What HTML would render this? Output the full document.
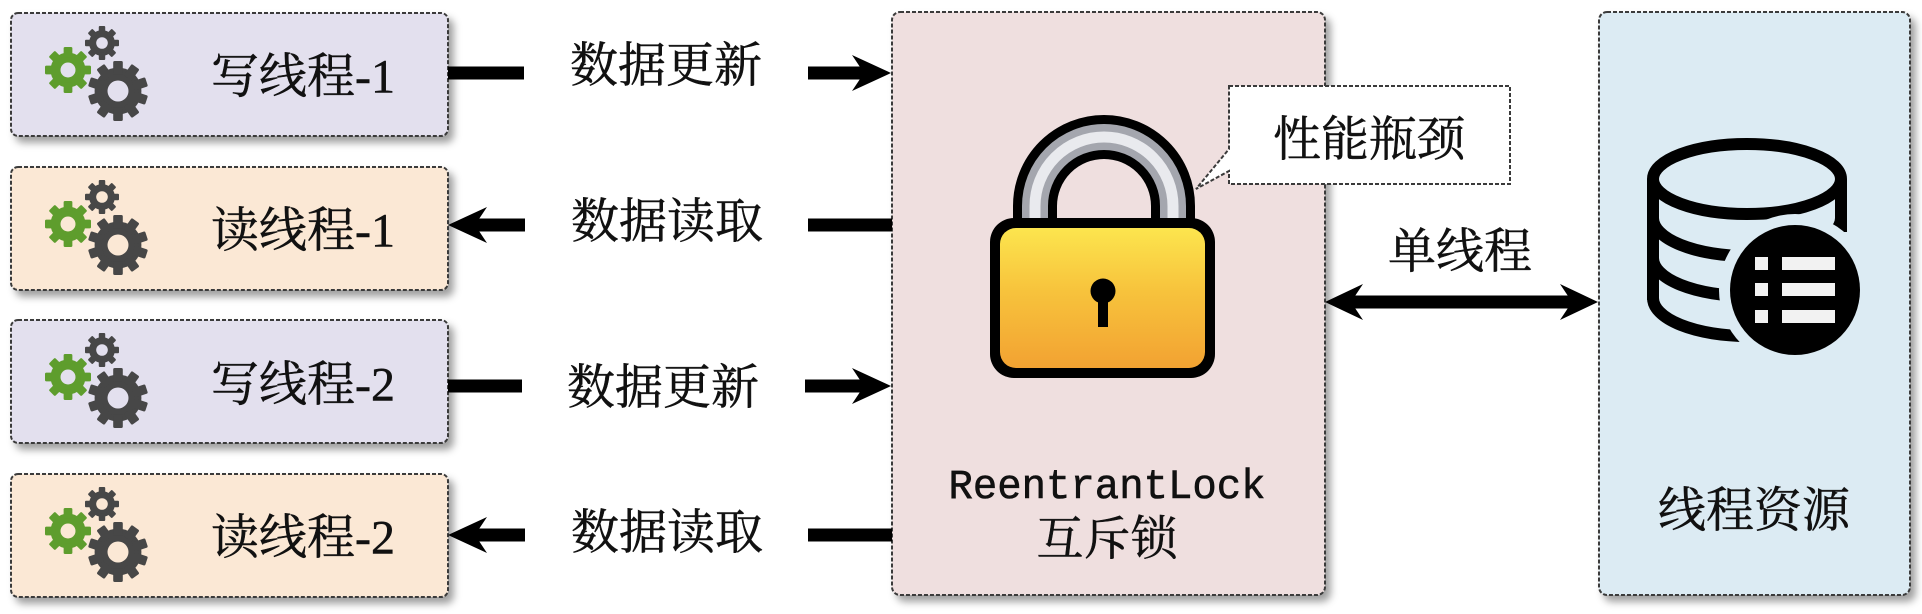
<!DOCTYPE html>
<html>
<head>
<meta charset="utf-8">
<style>
  html,body{margin:0;padding:0;background:#fff;}
  body{width:1922px;height:614px;overflow:hidden;}
  svg{display:block;}
  .t{font-family:"Liberation Serif","Noto Serif CJK SC",serif;fill:#111;stroke:#111;stroke-width:0.5;}
</style>
</head>
<body>
<svg width="1922" height="614" viewBox="0 0 1922 614" xmlns="http://www.w3.org/2000/svg">
  <defs>
    <filter id="sh" x="-10%" y="-10%" width="130%" height="130%">
      <feDropShadow dx="5" dy="6" stdDeviation="4" flood-color="#000" flood-opacity="0.38"/>
    </filter>
    <g id="g8">
      <circle r="7.6"/>
      <rect x="-1.9" y="-10" width="3.8" height="4.6" rx="0.6"/>
      <rect x="-1.9" y="-10" width="3.8" height="4.6" rx="0.6" transform="rotate(45)"/>
      <rect x="-1.9" y="-10" width="3.8" height="4.6" rx="0.6" transform="rotate(90)"/>
      <rect x="-1.9" y="-10" width="3.8" height="4.6" rx="0.6" transform="rotate(135)"/>
      <rect x="-1.9" y="-10" width="3.8" height="4.6" rx="0.6" transform="rotate(180)"/>
      <rect x="-1.9" y="-10" width="3.8" height="4.6" rx="0.6" transform="rotate(225)"/>
      <rect x="-1.9" y="-10" width="3.8" height="4.6" rx="0.6" transform="rotate(270)"/>
      <rect x="-1.9" y="-10" width="3.8" height="4.6" rx="0.6" transform="rotate(315)"/>
    </g>
    <g id="g10">
      <circle r="7.8"/>
      <rect x="-1.6" y="-10" width="3.2" height="4.6" rx="0.5"/>
      <rect x="-1.6" y="-10" width="3.2" height="4.6" rx="0.5" transform="rotate(36)"/>
      <rect x="-1.6" y="-10" width="3.2" height="4.6" rx="0.5" transform="rotate(72)"/>
      <rect x="-1.6" y="-10" width="3.2" height="4.6" rx="0.5" transform="rotate(108)"/>
      <rect x="-1.6" y="-10" width="3.2" height="4.6" rx="0.5" transform="rotate(144)"/>
      <rect x="-1.6" y="-10" width="3.2" height="4.6" rx="0.5" transform="rotate(180)"/>
      <rect x="-1.6" y="-10" width="3.2" height="4.6" rx="0.5" transform="rotate(216)"/>
      <rect x="-1.6" y="-10" width="3.2" height="4.6" rx="0.5" transform="rotate(252)"/>
      <rect x="-1.6" y="-10" width="3.2" height="4.6" rx="0.5" transform="rotate(288)"/>
      <rect x="-1.6" y="-10" width="3.2" height="4.6" rx="0.5" transform="rotate(324)"/>
    </g>
    <linearGradient id="body" x1="0" y1="0" x2="0" y2="1">
      <stop offset="0" stop-color="#fce54e"/>
      <stop offset="0.45" stop-color="#f7c33c"/>
      <stop offset="1" stop-color="#f2a232"/>
    </linearGradient>
  </defs>

  <!-- Left boxes -->
  <g stroke="#3a3a3a" stroke-width="2" stroke-dasharray="4 2">
    <rect x="11" y="13" width="437" height="123" rx="7" fill="#e3e0ee" filter="url(#sh)"/>
    <rect x="11" y="167" width="437" height="123" rx="7" fill="#fbe8d5" filter="url(#sh)"/>
    <rect x="11" y="320" width="437" height="123" rx="7" fill="#e3e0ee" filter="url(#sh)"/>
    <rect x="11" y="474" width="437" height="123" rx="7" fill="#fbe8d5" filter="url(#sh)"/>
  </g>

  <!-- Gears box 1 -->
  <g>
    <use href="#g8" transform="translate(68,70) scale(2.3)" fill="#5e9d2d"/>
    <circle cx="68" cy="70" r="7.5" fill="#e3e0ee"/>
    <use href="#g8" transform="translate(102,43) scale(1.7)" fill="#474747"/>
    <circle cx="102" cy="43" r="5.8" fill="#e3e0ee"/>
    <use href="#g10" transform="translate(118,91) scale(3.0)" fill="#474747"/>
    <circle cx="118" cy="91" r="10.5" fill="#e3e0ee"/>
  </g>
  <!-- Gears box 2 -->
  <g transform="translate(0,154)">
    <use href="#g8" transform="translate(68,70) scale(2.3)" fill="#5e9d2d"/>
    <circle cx="68" cy="70" r="7.5" fill="#fbe8d5"/>
    <use href="#g8" transform="translate(102,43) scale(1.7)" fill="#474747"/>
    <circle cx="102" cy="43" r="5.8" fill="#fbe8d5"/>
    <use href="#g10" transform="translate(118,91) scale(3.0)" fill="#474747"/>
    <circle cx="118" cy="91" r="10.5" fill="#fbe8d5"/>
  </g>
  <!-- Gears box 3 -->
  <g transform="translate(0,307)">
    <use href="#g8" transform="translate(68,70) scale(2.3)" fill="#5e9d2d"/>
    <circle cx="68" cy="70" r="7.5" fill="#e3e0ee"/>
    <use href="#g8" transform="translate(102,43) scale(1.7)" fill="#474747"/>
    <circle cx="102" cy="43" r="5.8" fill="#e3e0ee"/>
    <use href="#g10" transform="translate(118,91) scale(3.0)" fill="#474747"/>
    <circle cx="118" cy="91" r="10.5" fill="#e3e0ee"/>
  </g>
  <!-- Gears box 4 -->
  <g transform="translate(0,461)">
    <use href="#g8" transform="translate(68,70) scale(2.3)" fill="#5e9d2d"/>
    <circle cx="68" cy="70" r="7.5" fill="#fbe8d5"/>
    <use href="#g8" transform="translate(102,43) scale(1.7)" fill="#474747"/>
    <circle cx="102" cy="43" r="5.8" fill="#fbe8d5"/>
    <use href="#g10" transform="translate(118,91) scale(3.0)" fill="#474747"/>
    <circle cx="118" cy="91" r="10.5" fill="#fbe8d5"/>
  </g>

  <!-- Left box labels -->
  <g class="t" font-size="48" text-anchor="middle" dominant-baseline="central">
    <text x="303" y="77">写线程-1</text>
    <text x="303" y="231">读线程-1</text>
    <text x="303" y="385">写线程-2</text>
    <text x="303" y="538">读线程-2</text>
  </g>

  <!-- Center box -->
  <rect x="892" y="12" width="433" height="583" rx="8" fill="#efdfdf" stroke="#3a3a3a" stroke-width="2" stroke-dasharray="4 2" filter="url(#sh)"/>

  <!-- Right box -->
  <rect x="1599" y="12" width="311" height="583" rx="8" fill="#dcebf3" stroke="#3a3a3a" stroke-width="2" stroke-dasharray="4 2" filter="url(#sh)"/>

  <!-- Middle labels -->
  <g class="t" font-size="48" text-anchor="middle" dominant-baseline="central">
    <text x="666" y="66">数据更新</text>
    <text x="667" y="222">数据读取</text>
    <text x="663" y="388">数据更新</text>
    <text x="667" y="533">数据读取</text>
  </g>

  <!-- Arrows -->
  <g fill="#000">
    <rect x="448" y="66.5" width="76" height="13"/>
    <rect x="808" y="66.5" width="58" height="13"/>
    <polygon points="891,73 852,55 864,73 852,91"/>
    <polygon points="448,225 487,207 475,225 487,243"/>
    <rect x="473" y="218.5" width="52" height="13"/>
    <rect x="808" y="218.5" width="84" height="13"/>
    <rect x="448" y="379.5" width="74" height="13"/>
    <rect x="805" y="379.5" width="61" height="13"/>
    <polygon points="891,386 852,368 864,386 852,404"/>
    <polygon points="448,535 487,517 475,535 487,553"/>
    <rect x="473" y="528.5" width="52" height="13"/>
    <rect x="808" y="528.5" width="84" height="13"/>
    <rect x="1348" y="295.5" width="227" height="13"/>
    <polygon points="1325,302 1363,284 1351,302 1363,320"/>
    <polygon points="1598,302 1560,284 1572,302 1560,320"/>
  </g>

  <!-- Lock -->
  <g>
    <path d="M1035 245 V206 A69 69 0 0 1 1173 206 V245" fill="none" stroke="#000" stroke-width="44"/>
    <path d="M1035 245 V206 A69 69 0 0 1 1173 206 V245" fill="none" stroke="#a4a6ae" stroke-width="26"/>
    <path d="M1035 245 V206 A69 69 0 0 1 1173 206 V245" fill="none" stroke="#e9eaee" stroke-width="11"/>
    <rect x="990" y="218" width="225" height="160" rx="24" fill="#000"/>
    <rect x="1000" y="228" width="205" height="140" rx="16" fill="url(#body)"/>
    <circle cx="1103" cy="291" r="12.5" fill="#000"/>
    <rect x="1098" y="291" width="10" height="36" fill="#000"/>
  </g>

  <!-- Callout -->
  <path d="M1229 86 H1510 V184 H1229 V171 L1196 189 L1229 149 Z" fill="#fff" stroke="#3a3a3a" stroke-width="2" stroke-dasharray="4 2"/>
  <text class="t" x="1369" y="140" font-size="48" text-anchor="middle" dominant-baseline="central">性能瓶颈</text>

  <!-- Center box text -->
  <text x="1107" y="498" font-family="Liberation Mono, monospace" font-size="42" text-anchor="middle" fill="#111" stroke="#111" stroke-width="0.6" textLength="317" lengthAdjust="spacingAndGlyphs">ReentrantLock</text>
  <text class="t" x="1107" y="540" font-size="47" text-anchor="middle" dominant-baseline="central">互斥锁</text>

  <!-- Double arrow label -->
  <text class="t" x="1460" y="252" font-size="48" text-anchor="middle" dominant-baseline="central">单线程</text>

  <!-- Database icon -->
  <g fill="none" stroke="#000" stroke-width="12">
    <ellipse cx="1747" cy="179" rx="94" ry="35"/>
    <path d="M1653 179 V300"/>
    <path d="M1841 179 V232"/>
    <path d="M1653 218 A94 38 0 0 0 1841 218"/>
    <path d="M1653 258 A94 38 0 0 0 1841 258"/>
    <path d="M1653 298 A94 38 0 0 0 1841 298"/>
  </g>
  <circle cx="1795" cy="290" r="76" fill="#dcebf3"/>
  <circle cx="1795" cy="290" r="65" fill="#000"/>
  <g fill="#f2f2f2">
    <rect x="1755" y="257" width="13" height="13"/>
    <rect x="1755" y="283" width="13" height="13"/>
    <rect x="1755" y="310" width="13" height="13"/>
    <rect x="1782" y="257" width="53" height="13"/>
    <rect x="1782" y="283" width="53" height="13"/>
    <rect x="1782" y="310" width="53" height="13"/>
  </g>

  <!-- Right box label -->
  <text class="t" x="1754" y="511" font-size="48" text-anchor="middle" dominant-baseline="central">线程资源</text>
</svg>
</body>
</html>
